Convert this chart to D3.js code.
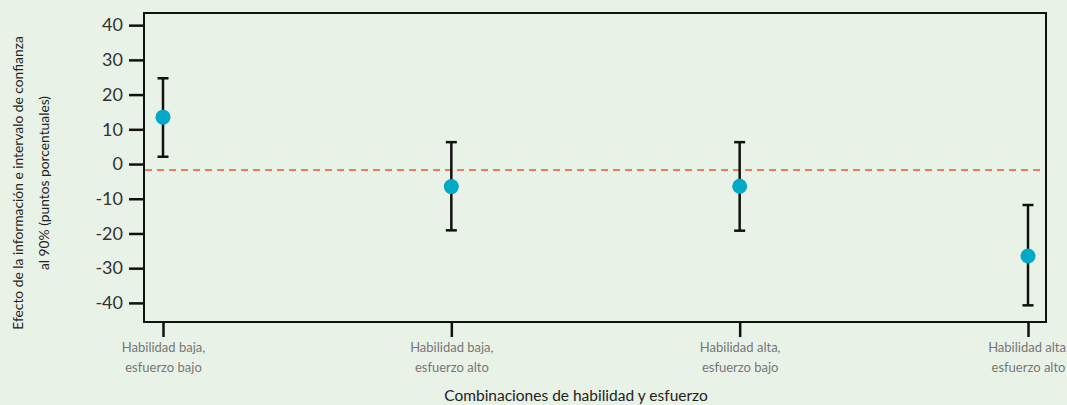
<!DOCTYPE html>
<html>
<head>
<meta charset="utf-8">
<script src="https://cdn.jsdelivr.net/npm/d3@7"></script>
<style>
  html, body { margin: 0; padding: 0; background: #e9f2e7; }
  svg { display: block; font-family: Lato, "Open Sans", sans-serif; }
</style>
</head>
<body>
<svg id="chart" width="1067" height="405"></svg>
<script>
// Effect estimates with 90% confidence intervals, by ability/effort group
const categories = [
  ["Habilidad baja,", "esfuerzo bajo"],
  ["Habilidad baja,", "esfuerzo alto"],
  ["Habilidad alta,", "esfuerzo bajo"],
  ["Habilidad alta,", "esfuerzo alto"]
];
const estimates = [13.5, -6.5, -6.4, -26.5];
const lowerCI = [2.1, -19.1, -19.2, -40.7];
const upperCI = [24.7, 6.3, 6.3, -11.8];
const referenceLine = -1.7;
const yTicks = [40, 30, 20, 10, 0, -10, -20, -30, -40];

const svg = d3.select("#chart");
const frame = { left: 144, right: 1046, top: 13, bottom: 322 };

const x = d3.scalePoint()
  .domain(d3.range(categories.length))
  .range([163, 1028]);

const y = d3.scaleLinear()
  .domain([-45.5, 43.5])
  .range([frame.bottom, frame.top]);

// Plot frame
svg.append("rect")
  .attr("x", frame.left).attr("y", frame.top)
  .attr("width", frame.right - frame.left)
  .attr("height", frame.bottom - frame.top)
  .attr("fill", "none").attr("stroke", "#111").attr("stroke-width", 2);

// Y axis (plain hyphen for negative numbers)
const yAxis = svg.append("g")
  .attr("transform", `translate(${frame.left},0)`)
  .call(d3.axisLeft(y).tickValues(yTicks).tickSize(15).tickPadding(6).tickFormat(d => String(d)));
yAxis.select(".domain").remove();
yAxis.selectAll(".tick line").attr("stroke", "#111").attr("stroke-width", 2.5);
yAxis.selectAll(".tick text")
  .attr("fill", "#333").style("font-size", "18px").style("font-family", "Lato, sans-serif");

// X axis ticks and two-line category labels
const xAxis = svg.append("g")
  .attr("transform", `translate(0,${frame.bottom})`)
  .call(d3.axisBottom(x).tickSize(15).tickFormat(""));
xAxis.select(".domain").remove();
xAxis.selectAll(".tick line").attr("stroke", "#111").attr("stroke-width", 2.5);
xAxis.selectAll(".tick").each(function (d) {
  const t = d3.select(this).append("text")
    .attr("text-anchor", "middle")
    .attr("fill", "#777")
    .style("font-size", "13px")
    .style("font-family", "Lato, sans-serif");
  categories[d].forEach((line, i) => {
    t.append("tspan").attr("x", 0).attr("y", 30 + i * 20).text(line);
  });
});

// Reference line
svg.append("line")
  .attr("x1", frame.left + 1).attr("x2", 1040)
  .attr("y1", y(referenceLine)).attr("y2", y(referenceLine))
  .attr("stroke", "#f37a5a").attr("stroke-width", 2)
  .attr("stroke-dasharray", "7,5");

// Error bars
const bars = svg.append("g").selectAll("g")
  .data(estimates.map((v, i) => ({ i, v, lo: lowerCI[i], hi: upperCI[i] })))
  .join("g");
bars.append("line")
  .attr("x1", d => x(d.i)).attr("x2", d => x(d.i))
  .attr("y1", d => y(d.lo)).attr("y2", d => y(d.hi))
  .attr("stroke", "#111").attr("stroke-width", 2.5);
bars.selectAll(".cap")
  .data(d => [{ i: d.i, v: d.lo }, { i: d.i, v: d.hi }])
  .join("line")
  .attr("class", "cap")
  .attr("x1", d => x(d.i) - 5.5).attr("x2", d => x(d.i) + 5.5)
  .attr("y1", d => y(d.v)).attr("y2", d => y(d.v))
  .attr("stroke", "#111").attr("stroke-width", 2.5);
bars.append("circle")
  .attr("cx", d => x(d.i)).attr("cy", d => y(d.v))
  .attr("r", 7.5).attr("fill", "#00a9c6");

// Axis titles
svg.append("text")
  .attr("x", 576).attr("y", 401)
  .attr("text-anchor", "middle")
  .attr("fill", "#222")
  .style("font-size", "15.5px")
  .text("Combinaciones de habilidad y esfuerzo");

const yTitle = svg.append("text")
  .attr("transform", "translate(0,183) rotate(-90)")
  .attr("text-anchor", "middle")
  .attr("fill", "#222")
  .style("font-size", "13.8px");
yTitle.append("tspan").attr("x", 0).attr("y", 23).text("Efecto de la información e intervalo de confianza");
yTitle.append("tspan").attr("x", 0).attr("y", 49).text("al 90% (puntos porcentuales)");
</script>
</body>
</html>
